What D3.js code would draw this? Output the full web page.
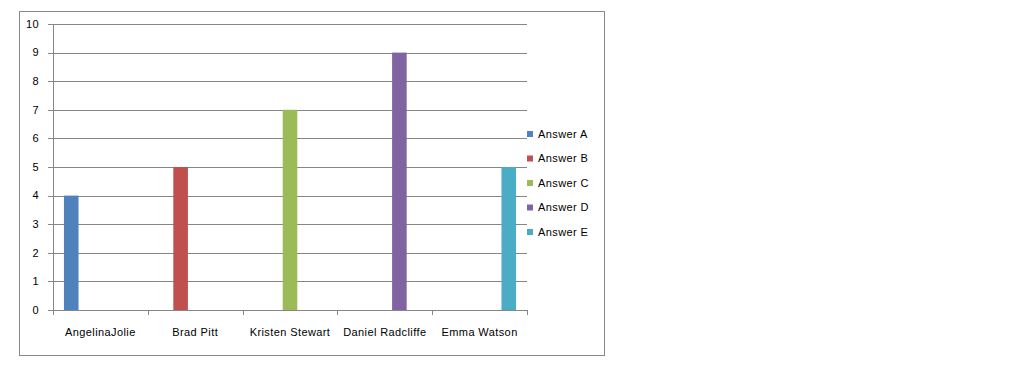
<!DOCTYPE html>
<html lang="en">
<head>
    <meta charset="UTF-8">
    <title>Answers</title>
    <script src="https://cdn.jsdelivr.net/npm/d3@7/dist/d3.min.js"></script>
    <style>
        body { margin: 0; background: #fff; }
        text { font-family: "Liberation Sans", Arial, sans-serif; font-size: 11px; fill: #000; letter-spacing: 0.4px; }
    </style>
</head>
<body>
<script type="text/javascript">
    var categories = ['AngelinaJolie', 'Brad Pitt', 'Kristen Stewart', 'Daniel Radcliffe', 'Emma Watson'];
    var seriesNames = ['Answer A', 'Answer B', 'Answer C', 'Answer D', 'Answer E'];
    var answerA = [4, 0, 0, 0, 0];
    var answerB = [0, 5, 0, 0, 0];
    var answerC = [0, 0, 7, 0, 0];
    var answerD = [0, 0, 0, 9, 0];
    var answerE = [0, 0, 0, 0, 5];
    var yTicks = [0, 1, 2, 3, 4, 5, 6, 7, 8, 9, 10];
    var colors = ['#4F81BD', '#C0504D', '#9BBB59', '#8064A2', '#4BACC6'];

    var seriesValues = [answerA, answerB, answerC, answerD, answerE];

    var width = 1018, height = 390;
    var svg = d3.select('body').append('svg')
            .attr('width', width)
            .attr('height', height);

    // outer chart border
    svg.append('rect')
            .attr('x', 19.5).attr('y', 11.5)
            .attr('width', 585).attr('height', 344)
            .attr('fill', 'none')
            .attr('stroke', '#888')
            .attr('stroke-width', 1);

    var plotLeft = 53, plotRight = 527, plotTop = 24, plotBottom = 310;

    var x0 = d3.scaleBand().domain(categories).range([plotLeft, plotRight]).padding(0);
    var bw = x0.bandwidth() / 6.5;
    var x1 = d3.scaleBand().domain(seriesNames)
            .range([bw * 0.75, bw * 5.75]).padding(0);
    var y = d3.scaleLinear().domain([0, 10]).range([plotBottom, plotTop]);

    // gridlines
    svg.append('g').selectAll('line')
            .data(yTicks)
            .enter()
            .append('line')
            .attr('x1', plotLeft - 5).attr('x2', plotRight)
            .attr('y1', function (d) { return Math.round(y(d)) + 0.5; })
            .attr('y2', function (d) { return Math.round(y(d)) + 0.5; })
            .attr('stroke', '#868686');

    // y axis line
    svg.append('line')
            .attr('x1', plotLeft + 0.5).attr('x2', plotLeft + 0.5)
            .attr('y1', plotTop).attr('y2', plotBottom + 0.5)
            .attr('stroke', '#868686');

    svg.append('g').selectAll('text')
            .data(yTicks)
            .enter()
            .append('text')
            .attr('x', 39)
            .attr('y', function (d) { return y(d); })
            .attr('dy', '0.35em')
            .attr('text-anchor', 'end')
            .text(function (d) { return d; });

    // bars
    var groups = svg.append('g').selectAll('g')
            .data(categories)
            .enter()
            .append('g')
            .attr('transform', function (d) { return 'translate(' + x0(d) + ',0)'; });
    groups.selectAll('rect')
            .data(function (d, i) {
                return seriesNames.map(function (s, j) {
                    return {series: s, value: seriesValues[j][i], idx: j};
                });
            })
            .enter()
            .append('rect')
            .attr('x', function (d) { return x1(d.series); })
            .attr('width', x1.bandwidth())
            .attr('y', function (d) { return y(d.value); })
            .attr('height', function (d) { return plotBottom - y(d.value); })
            .attr('fill', function (d) { return colors[d.idx]; });

    // x axis
    svg.append('line')
            .attr('x1', plotLeft).attr('x2', plotRight + 0.5)
            .attr('y1', plotBottom + 0.5).attr('y2', plotBottom + 0.5)
            .attr('stroke', '#868686');
    var bounds = categories.map(function (c) { return x0(c); }).concat([plotRight]);
    svg.append('g').selectAll('line')
            .data(bounds)
            .enter()
            .append('line')
            .attr('x1', function (d) { return Math.round(d) + 0.5; })
            .attr('x2', function (d) { return Math.round(d) + 0.5; })
            .attr('y1', plotBottom).attr('y2', plotBottom + 5)
            .attr('stroke', '#868686');
    svg.append('g').selectAll('text')
            .data(categories)
            .enter()
            .append('text')
            .attr('x', function (d) { return x0(d) + x0.bandwidth() / 2; })
            .attr('y', 332)
            .attr('dy', '0.35em')
            .attr('text-anchor', 'middle')
            .text(function (d) { return d; });

    // legend
    var legend = svg.append('g').selectAll('g')
            .data(seriesNames)
            .enter()
            .append('g')
            .attr('transform', function (d, i) { return 'translate(527,' + (134 + i * 24.5) + ')'; });
    legend.append('rect')
            .attr('x', 0).attr('y', -3)
            .attr('width', 6).attr('height', 6)
            .attr('fill', function (d, i) { return colors[i]; });
    legend.append('text')
            .attr('x', 11)
            .attr('dy', '0.35em')
            .text(function (d) { return d; });
</script>
</body>
</html>
